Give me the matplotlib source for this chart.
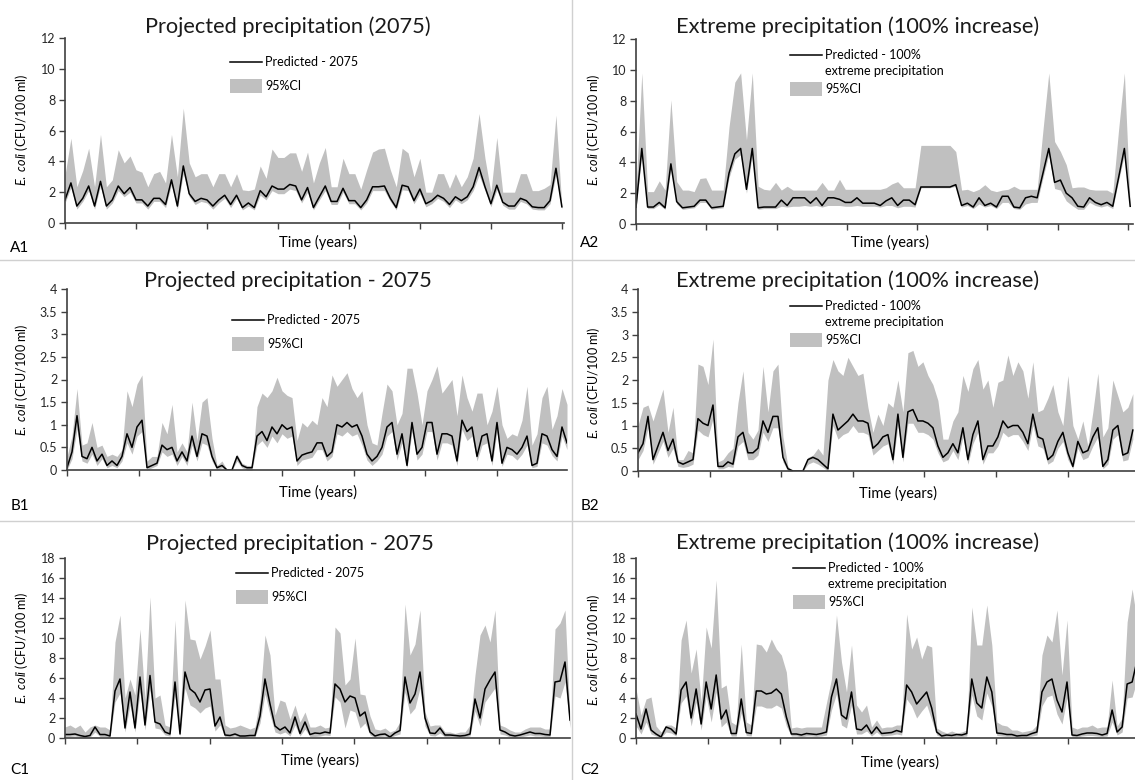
import numpy as np
import matplotlib.pyplot as plt
from matplotlib.lines import Line2D
from matplotlib.patches import Rectangle

plt.rcParams['font.family'] = ['Lato', 'DejaVu Sans']
plt.rcParams['mathtext.fontset'] = 'custom'
plt.rcParams['mathtext.it'] = 'Lato:italic'
plt.rcParams['mathtext.rm'] = 'Lato'

# ---- data (E. coli, CFU/100 ml) ----
# A: monthly series
pred_a1 = [1.5, 2.6, 1.1, 1.6, 2.4, 1.1, 2.7, 1.1, 1.5, 2.4, 1.9, 2.3, 1.5, 1.5, 1.1, 1.6, 1.6, 1.2, 2.8, 1.1,
           3.7, 1.9, 1.4, 1.6, 1.5, 1.1, 1.5, 1.8, 1.2, 1.8, 1.0, 1.3, 1.0, 2.1, 1.7, 2.4, 2.2, 2.2, 2.5, 2.4,
           1.5, 2.3, 1.0, 1.7, 2.4, 1.4, 1.4, 2.25, 1.45, 1.45, 1.0, 1.5, 2.35, 2.35, 2.4, 1.6, 1.0, 2.45, 2.35, 1.45,
           2.2, 1.25, 1.45, 1.8, 1.6, 1.2, 1.7, 1.45, 1.7, 2.35, 3.6, 2.35, 1.25, 2.45, 1.35, 1.1, 1.1, 1.6, 1.45, 1.05,
           1.0, 1.0, 1.45, 3.55, 1.05]
upper_a1 = [3.1, 5.5, 2.35, 3.4, 4.85, 2.35, 5.75, 2.35, 2.8, 4.75, 3.9, 4.35, 3.45, 3.3, 2.35, 3.2, 3.35, 2.6, 5.75, 3.0,
            7.45, 3.9, 3.0, 3.2, 3.2, 2.35, 3.2, 3.2, 2.35, 3.2, 2.15, 2.1, 2.2, 3.7, 2.9, 4.8, 4.25, 4.25, 4.55, 4.55,
            3.35, 4.6, 2.6, 3.9, 4.9, 2.35, 2.35, 4.2, 3.2, 3.2, 2.2, 3.45, 4.6, 4.8, 4.85, 3.45, 2.35, 4.85, 4.55, 3.0,
            4.2, 2.0, 2.0, 3.2, 3.2, 2.25, 3.2, 2.35, 3.0, 4.2, 7.1, 4.2, 2.0, 5.55, 2.0, 2.0, 2.0, 3.2, 3.2, 2.1,
            2.1, 2.25, 2.5, 7.0, 1.05]
lower_a1 = [1.3, 2.3, 0.9, 1.4, 2.1, 0.9, 2.4, 0.9, 1.3, 2.1, 1.7, 2.0, 1.3, 1.3, 0.9, 1.4, 1.4, 1.0, 2.5, 0.9,
            3.2, 1.7, 1.2, 1.4, 1.3, 0.9, 1.3, 1.6, 1.0, 1.6, 0.85, 1.1, 0.85, 1.8, 1.5, 2.1, 1.9, 1.9, 2.2, 2.1,
            1.3, 2.0, 0.85, 1.5, 2.1, 1.2, 1.2, 2.0, 1.25, 1.25, 0.85, 1.3, 2.1, 2.1, 2.1, 1.4, 0.85, 2.15, 2.1, 1.25,
            1.9, 1.05, 1.25, 1.6, 1.4, 1.0, 1.5, 1.25, 1.5, 2.1, 3.1, 2.1, 1.05, 2.15, 1.15, 0.9, 0.9, 1.4, 1.25, 0.9,
            0.85, 0.85, 1.25, 3.1, 0.9]

pred_a2 = [1.08, 4.9, 1.1, 1.1, 1.4, 1.05, 3.9, 1.45, 1.05, 1.1, 1.15, 1.55, 1.55, 1.05, 1.1, 1.15, 3.3, 4.55, 4.9, 2.25,
           4.9, 1.05, 1.1, 1.1, 1.1, 1.55, 1.2, 1.7, 1.7, 1.7, 1.35, 1.7, 1.2, 1.7, 1.7, 1.6, 1.4, 1.4, 1.7, 1.35,
           1.35, 1.35, 1.2, 1.5, 1.7, 1.2, 1.55, 1.55, 1.25, 2.4, 2.4, 2.4, 2.4, 2.4, 2.4, 2.55, 1.2, 1.35, 1.1, 1.7,
           1.2, 1.35, 1.1, 1.8, 1.8, 1.1, 1.05, 1.7, 1.8, 1.7, 3.3, 4.9, 2.7, 2.85, 2.0, 1.7, 1.15, 1.1, 1.7, 1.4,
           1.25, 1.4, 1.15, 3.0, 4.9, 1.15]
upper_a2 = [2.2, 9.8, 2.1, 2.1, 2.8, 2.2, 8.05, 2.75, 2.2, 2.2, 2.1, 2.95, 3.0, 2.2, 2.2, 2.2, 6.3, 9.2, 9.8, 5.45,
            9.8, 2.45, 2.25, 2.2, 2.7, 2.2, 2.45, 2.2, 2.2, 2.2, 2.2, 2.2, 2.7, 2.2, 2.2, 2.9, 2.25, 2.25, 2.25, 2.25,
            2.25, 2.25, 2.25, 2.35, 2.6, 2.75, 2.35, 2.35, 2.35, 5.1, 5.1, 5.1, 5.1, 5.1, 5.1, 4.7, 2.2, 2.25, 2.1, 2.25,
            2.55, 2.2, 2.1, 2.2, 2.25, 2.45, 2.25, 2.25, 2.25, 2.25, 6.1, 9.8, 5.35, 4.7, 3.85, 2.35, 2.4, 2.4, 2.25, 2.2,
            2.2, 2.2, 2.0, 6.1, 9.8, 1.15]
lower_a2 = [1.0, 4.5, 1.0, 1.0, 1.25, 0.95, 3.6, 1.3, 0.95, 1.0, 1.05, 1.4, 1.4, 0.95, 1.0, 1.05, 3.0, 4.2, 4.5, 2.0,
            4.5, 0.95, 1.0, 1.0, 1.0, 1.15, 1.1, 1.15, 1.15, 1.2, 1.15, 1.2, 1.1, 1.2, 1.2, 1.2, 1.15, 1.15, 1.2, 1.15,
            1.15, 1.15, 1.1, 1.2, 1.2, 1.05, 1.15, 1.15, 1.1, 2.35, 2.35, 2.35, 2.35, 2.35, 2.35, 2.45, 1.1, 1.2, 1.0, 1.3,
            1.1, 1.2, 1.0, 1.4, 1.4, 1.0, 0.95, 1.3, 1.4, 1.4, 3.0, 4.5, 2.3, 2.2, 1.5, 1.2, 0.95, 0.95, 1.4, 1.2,
            1.1, 1.2, 1.0, 2.8, 4.5, 1.0]

# B: sub-monthly series
pred_b1 = [0.05, 0.4, 1.2, 0.3, 0.25, 0.5, 0.2, 0.35, 0.1, 0.2, 0.1, 0.3, 0.8, 0.5, 0.95, 1.1, 0.05, 0.1, 0.15, 0.55,
           0.45, 0.5, 0.2, 0.4, 0.2, 0.75, 0.3, 0.8, 0.75, 0.3, 0.05, 0.1, 0.0, 0.0, 0.3, 0.1, 0.05, 0.05, 0.75, 0.85,
           0.65, 0.95, 0.8, 1.0, 0.9, 0.95, 0.2, 0.33, 0.37, 0.4, 0.6,
           0.6, 0.3, 0.4, 1.0, 0.95, 1.05, 0.95, 1.0, 0.75, 0.35, 0.2, 0.3, 0.5, 0.95, 1.05, 0.35, 0.8, 0.1, 1.05, 0.35,
           0.5, 1.05, 1.05, 0.35, 0.8, 0.8, 0.75, 0.2, 1.1, 0.85, 0.95, 0.3, 0.75, 0.8, 0.2, 1.05, 0.15, 0.5, 0.45, 0.35,
           0.5, 0.75, 0.1, 0.15, 0.8, 0.75, 0.45, 0.3, 0.95, 0.6]
upper_b1 = [0.3, 0.75, 1.8, 0.55, 0.6, 1.05, 0.5, 0.55, 0.3, 0.35, 0.3, 0.45, 1.75, 1.4, 1.9, 2.1, 0.2, 0.3, 0.3, 1.05,
            0.8, 1.45, 0.4, 0.6, 0.4, 1.5, 0.65, 1.5, 1.6, 0.7, 0.1, 0.2, 0.0, 0.0, 0.35, 0.15, 0.1, 0.1, 1.4, 1.7,
            1.6, 1.75, 2.05, 1.75, 1.65, 1.6, 0.65, 1.05, 0.95, 1.1, 1.0,
            1.6, 1.4, 2.1, 1.85, 2.0, 2.15, 1.8, 1.6, 1.75, 1.0, 0.6, 0.55, 1.25, 1.9, 1.75, 1.0, 1.25, 2.25, 2.25, 1.7,
            1.0, 1.75, 2.0, 2.3, 1.7, 1.85, 2.0, 1.2, 2.1, 1.6, 1.3, 1.7, 1.7, 1.0, 1.3, 1.85, 1.0, 0.7, 0.8, 0.75,
            1.1, 1.85, 0.55, 0.8, 1.6, 1.85, 0.9, 1.2, 1.8, 1.45]
lower_b1 = [0.0, 0.25, 0.9, 0.2, 0.15, 0.35, 0.1, 0.25, 0.05, 0.1, 0.05, 0.2, 0.6, 0.35, 0.75, 0.85, 0.0, 0.05, 0.1, 0.4,
            0.3, 0.35, 0.1, 0.3, 0.1, 0.55, 0.2, 0.6, 0.55, 0.2, 0.0, 0.05, 0.0, 0.0, 0.2, 0.05, 0.0, 0.0, 0.55, 0.65,
            0.5, 0.75, 0.6, 0.8, 0.7, 0.75, 0.1, 0.22, 0.25, 0.28, 0.45,
            0.45, 0.2, 0.3, 0.8, 0.75, 0.85, 0.75, 0.8, 0.55, 0.22, 0.1, 0.2, 0.35, 0.75, 0.85, 0.22, 0.6, 0.05, 0.85, 0.22,
            0.35, 0.85, 0.85, 0.22, 0.6, 0.6, 0.55, 0.1, 0.9, 0.65, 0.75, 0.2, 0.55, 0.6, 0.1, 0.85, 0.08, 0.35, 0.32, 0.22,
            0.35, 0.55, 0.05, 0.08, 0.6, 0.55, 0.32, 0.2, 0.75, 0.45]

pred_b2 = [0.4, 0.6, 1.2, 0.25, 0.55, 0.85, 0.45, 0.7, 0.2, 0.15, 0.2, 0.25, 1.15, 1.05, 1.0, 1.45, 0.1, 0.1, 0.2, 0.15,
           0.75, 0.85, 0.4, 0.4, 0.5, 1.1, 0.85, 1.2, 1.2, 0.3, 0.05, 0.0, 0.0, 0.0, 0.25, 0.3, 0.25, 0.15, 0.05, 1.25,
           0.9, 1.0, 1.1, 1.25, 1.1, 1.1, 1.05, 0.5, 0.6, 0.75, 0.8,
           0.25, 1.25, 0.3, 1.3, 1.35, 1.1, 1.1, 1.05, 0.95, 0.55, 0.3, 0.4, 0.6, 0.4, 0.95, 0.25, 0.8, 1.1, 0.25,
           0.55, 0.55, 0.75, 1.1, 0.95, 1.0, 1.0, 0.85, 0.6, 1.25, 0.75, 0.7, 0.25, 0.35, 0.65, 0.85, 0.4, 0.1, 0.65, 0.4,
           0.45, 0.75, 0.95, 0.1, 0.25, 0.9, 1.0, 0.35, 0.4, 0.9]
upper_b2 = [1.0, 1.4, 1.45, 1.1, 1.45, 1.8, 0.85, 1.4, 0.25, 0.25, 0.45, 0.4, 2.35, 2.3, 1.9, 2.9, 0.2, 0.25, 0.4, 0.5,
            1.5, 2.2, 0.85, 0.7, 0.9, 2.3, 1.3, 2.2, 2.35, 0.75, 0.1, 0.0, 0.0, 0.0, 0.3, 0.35, 0.5, 0.35, 2.0, 2.45,
            2.2, 2.1, 2.5, 2.3, 2.1, 2.15, 1.4, 0.85, 1.25, 1.0, 1.5,
            1.4, 2.0, 1.3, 2.6, 2.65, 2.3, 2.4, 2.1, 1.9, 1.55, 0.7, 0.7, 1.1, 1.3, 2.1, 1.75, 2.25, 2.45, 1.8,
            2.0, 1.4, 1.95, 2.0, 2.55, 2.1, 2.4, 2.2, 1.6, 2.4, 1.3, 1.35, 1.6, 1.9, 1.3, 1.0, 2.1, 1.0, 0.7, 1.1,
            0.55, 1.3, 2.15, 0.75, 0.95, 2.0, 1.65, 1.3, 1.4, 1.7]
lower_b2 = [0.25, 0.45, 0.95, 0.15, 0.4, 0.65, 0.3, 0.5, 0.1, 0.08, 0.1, 0.15, 0.9, 0.8, 0.75, 1.15, 0.05, 0.05, 0.1, 0.08,
            0.55, 0.65, 0.25, 0.25, 0.35, 0.85, 0.65, 0.95, 0.95, 0.2, 0.0, 0.0, 0.0, 0.0, 0.15, 0.2, 0.15, 0.08, 0.0, 1.0,
            0.7, 0.8, 0.85, 1.0, 0.85, 0.85, 0.8, 0.35, 0.45, 0.55, 0.6,
            0.15, 1.0, 0.2, 1.05, 1.05, 0.85, 0.85, 0.8, 0.7, 0.4, 0.2, 0.25, 0.45, 0.25, 0.75, 0.15, 0.6, 0.85, 0.15,
            0.4, 0.4, 0.55, 0.85, 0.75, 0.8, 0.8, 0.65, 0.45, 1.0, 0.55, 0.5, 0.15, 0.22, 0.5, 0.65, 0.25, 0.05, 0.5, 0.25,
            0.3, 0.55, 0.75, 0.05, 0.15, 0.7, 0.8, 0.22, 0.25, 0.7]

# C: sub-monthly series
pred_c1 = [0.35, 0.35, 0.4, 0.25, 0.15, 0.25, 1.1, 0.35, 0.35, 0.2, 4.7, 5.9, 1.0, 4.6, 1.0, 6.1, 1.3, 6.25, 1.6, 1.4,
           0.6, 0.4, 5.6, 0.4, 6.6, 4.9, 4.5, 3.6, 4.8, 4.9, 1.2, 2.1, 0.3, 0.25, 0.4, 0.2, 0.2, 0.25, 0.25, 2.2,
           5.9, 3.4, 1.2, 0.8, 1.1, 0.5, 2.1, 0.45, 1.6, 0.35, 0.5,
           0.45, 0.6, 0.5, 5.4, 4.9, 3.6, 4.2, 4.0, 2.2, 2.6, 0.6, 0.2, 0.35, 0.4, 0.1, 0.5, 0.75, 6.1, 3.5, 4.4,
           6.6, 2.0, 0.5, 0.45, 1.0, 0.3, 0.3, 0.25, 0.2, 0.25, 0.4, 3.9, 2.0, 4.9, 5.8, 6.6, 0.8, 0.6, 0.3, 0.2,
           0.3, 0.45, 0.6, 0.45, 0.45, 0.35, 0.3, 5.6, 5.7, 7.6, 1.8]
upper_c1 = [1.1, 1.3, 1.0, 1.3, 0.6, 1.1, 1.3, 1.1, 1.1, 0.8, 9.6, 12.3, 4.0, 5.9, 4.3, 10.9, 3.8, 14.1, 4.0, 4.3,
            1.3, 1.1, 11.8, 1.1, 13.8, 9.9, 9.8, 7.9, 9.2, 10.8, 5.9, 5.9, 1.3, 1.0, 1.1, 1.3, 1.1, 0.9, 1.1, 3.9,
            10.3, 8.3, 2.3, 3.8, 3.6, 1.9, 3.3, 1.6, 2.6, 1.1, 1.1,
            1.3, 1.0, 1.1, 11.1, 10.5, 5.3, 5.9, 10.0, 4.4, 4.3, 2.2, 0.9, 0.8, 1.0, 0.6, 0.8, 1.6, 13.4, 8.3, 9.4,
            12.8, 2.6, 1.2, 1.3, 1.3, 0.6, 0.6, 0.45, 0.6, 0.6, 1.3, 6.3, 10.3, 11.3, 9.6, 12.8, 1.3, 1.1, 0.8, 0.6,
            0.6, 0.9, 1.1, 1.1, 1.1, 0.9, 0.9, 10.9, 11.5, 12.8, 1.9]
lower_c1 = [0.15, 0.15, 0.2, 0.1, 0.05, 0.1, 0.6, 0.15, 0.15, 0.05, 3.6, 4.5, 0.6, 3.3, 0.6, 4.6, 0.8, 4.8, 1.0, 0.9,
            0.3, 0.2, 4.2, 0.2, 5.0, 3.3, 3.0, 2.5, 3.0, 3.2, 0.7, 1.3, 0.1, 0.1, 0.2, 0.05, 0.05, 0.1, 0.1, 1.5,
            4.4, 2.3, 0.6, 0.4, 0.6, 0.2, 1.3, 0.2, 0.9, 0.15, 0.15,
            0.2, 0.3, 0.25, 4.1, 3.6, 1.0, 2.8, 2.6, 1.0, 1.5, 0.3, 0.05, 0.15, 0.2, 0.03, 0.25, 0.4, 4.6, 2.4, 3.0,
            5.0, 1.2, 0.25, 0.2, 0.5, 0.1, 0.1, 0.1, 0.05, 0.1, 0.2, 2.7, 1.2, 3.6, 4.3, 5.0, 0.4, 0.3, 0.1, 0.05,
            0.1, 0.2, 0.3, 0.2, 0.2, 0.15, 0.1, 4.2, 4.0, 5.6, 1.0]

pred_c2 = [2.4, 0.9, 2.9, 0.8, 0.4, 0.1, 1.1, 0.9, 0.4, 4.8, 5.6, 2.0, 4.9, 1.4, 5.6, 2.9, 6.3, 1.9, 2.8, 0.45,
           0.45, 3.9, 0.55, 0.45, 4.7, 4.7, 4.4, 4.5, 4.9, 4.4, 2.1, 0.4, 0.4, 0.3, 0.45, 0.4, 0.35, 0.45, 0.6, 4.1,
           5.9, 2.3, 1.9, 4.6, 0.9, 0.8, 1.3, 0.45, 1.1, 0.45, 0.5,
           0.55, 0.75, 0.6, 5.3, 4.6, 3.4, 4.0, 4.6, 3.0, 0.6, 0.2, 0.3, 0.25, 0.35, 0.3, 0.45, 5.9, 3.5, 3.0, 6.1,
           4.6, 0.5, 0.45, 0.35, 0.35, 0.2, 0.25, 0.25, 0.45, 0.6, 4.6, 5.6, 5.9, 3.8, 2.6, 5.6, 0.3, 0.25, 0.4, 0.5,
           0.5, 0.45, 0.3, 0.45, 2.8, 0.6, 1.1, 5.4, 5.6, 7.8]
upper_c2 = [4.9, 2.3, 3.9, 4.1, 1.2, 0.6, 1.3, 1.3, 1.0, 9.8, 11.8, 6.5, 8.9, 3.6, 11.1, 9.0, 15.8, 5.0, 5.3, 1.6,
            1.3, 9.4, 1.6, 1.3, 9.4, 9.3, 8.6, 9.9, 8.9, 8.3, 6.6, 1.0, 1.1, 1.0, 1.1, 1.1, 1.1, 1.1, 3.5, 5.9,
            12.3, 7.6, 4.6, 9.3, 3.3, 2.6, 3.3, 1.1, 1.8, 1.0, 1.1,
            1.1, 1.3, 1.3, 12.4, 8.9, 10.1, 7.9, 9.3, 9.1, 1.0, 0.7, 0.5, 0.7, 0.5, 0.6, 0.8, 13.1, 9.3, 9.3, 13.3,
            9.3, 1.6, 1.3, 1.2, 0.8, 0.8, 0.6, 0.7, 0.8, 1.3, 8.3, 10.3, 9.6, 12.8, 6.3, 11.8, 1.1, 0.9, 1.1, 1.1,
            1.3, 1.0, 1.1, 1.1, 5.8, 1.2, 2.0, 11.6, 14.9, 11.6]
lower_c2 = [1.2, 0.4, 1.6, 0.4, 0.2, 0.05, 0.6, 0.5, 0.2, 3.5, 4.2, 1.2, 3.6, 0.8, 4.2, 1.6, 4.6, 1.1, 1.6, 0.2,
            0.2, 2.5, 0.25, 0.2, 3.2, 3.2, 3.0, 3.0, 3.3, 3.0, 1.2, 0.2, 0.2, 0.1, 0.2, 0.2, 0.15, 0.2, 0.3, 2.8,
            4.4, 1.3, 1.0, 3.3, 0.4, 0.4, 0.7, 0.2, 0.6, 0.2, 0.25,
            0.3, 0.4, 0.3, 3.9, 3.2, 2.0, 2.7, 3.3, 1.8, 0.3, 0.1, 0.15, 0.1, 0.15, 0.15, 0.2, 4.3, 2.2, 1.8, 4.5,
            3.2, 0.25, 0.2, 0.15, 0.15, 0.1, 0.1, 0.1, 0.2, 0.3, 3.2, 4.1, 4.3, 2.4, 1.4, 4.0, 0.1, 0.1, 0.2, 0.25,
            0.25, 0.2, 0.15, 0.2, 1.6, 0.3, 0.6, 4.0, 4.1, 5.8]

ticks_a = [0, 2, 4, 6, 8, 10, 12]
ticks_b = [0, 0.5, 1, 1.5, 2, 2.5, 3, 3.5, 4]
labels_b = ['0', '0.5', '1', '1.5', '2', '2.5', '3', '3.5', '4']
ticks_c = [0, 2, 4, 6, 8, 10, 12, 14, 16, 18]

title_proj_a = 'Projected precipitation (2075)'
title_proj = 'Projected precipitation - 2075'
title_ext = 'Extreme precipitation (100% increase)'
ylab = r'$\it{E.\ coli}$ (CFU/100 ml)'

W, H = 1135, 780
fig = plt.figure(figsize=(W / 100, H / 100), dpi=100)


def fx(px):
    return px / W


def fy(py):
    return 1 - py / H


def panel(box, t_end, xmax, nyears, pred, lo, hi, yticks, ylabels=None):
    left, right, top, bottom = box
    ax = fig.add_axes([fx(left), fy(bottom), (right - left) / W, (bottom - top) / H])
    t = np.linspace(0, t_end, len(pred))
    ax.fill_between(t, lo, hi, color='#c0c0c0', lw=0)
    ax.plot(t, pred, color='black', lw=1.1)
    ax.set_xlim(0, xmax)
    ax.set_ylim(yticks[0], yticks[-1])
    ax.set_yticks(yticks)
    if ylabels is not None:
        ax.set_yticklabels(ylabels)
    ax.set_xticks(range(nyears + 1))
    ax.set_xticklabels([])
    for s in ['top', 'right']:
        ax.spines[s].set_visible(False)
    for s in ['left', 'bottom']:
        ax.spines[s].set_color('#404040')
        ax.spines[s].set_linewidth(1.2)
    ax.tick_params(direction='out', length=4, width=1, color='#404040',
                   labelsize=9, labelcolor='#262626', pad=3)
    return ax


def legend(x, y, text, two_lines=False):
    fig.add_artist(Line2D([fx(x), fx(x + 32)], [fy(y), fy(y)], color='black', lw=1.1))
    fig.text(fx(x + 35), fy(y), text[0], fontsize=9, va='center', ha='left')
    yb = y + 24
    if two_lines:
        fig.text(fx(x + 35), fy(y + 16), text[1], fontsize=9, va='center', ha='left')
        yb = y + 34
    fig.add_artist(Rectangle((fx(x), fy(yb + 7)), 32 / W, 14 / H, color='#c0c0c0', lw=0))
    fig.text(fx(x + 35), fy(yb), '95%CI', fontsize=9, va='center', ha='left')


# A1 / A2
panel((65, 564, 38, 223), 7.0, 7.03, 7, pred_a1, lower_a1, upper_a1, ticks_a)
panel((636, 1133, 39, 224), 7.03, 7.07, 7, pred_a2, lower_a2, upper_a2, ticks_a)
# B1 / B2
panel((67, 567, 289, 470), 6.98, 6.98, 6, pred_b1, lower_b1, upper_b1, ticks_b, labels_b)
panel((638, 1135, 289, 471), 6.91, 6.94, 6, pred_b2, lower_b2, upper_b2, ticks_b, labels_b)
# C1 / C2
panel((65, 570, 558, 738), 6.98, 6.98, 6, pred_c1, lower_c1, upper_c1, ticks_c)
panel((636, 1135, 558, 738), 6.96, 6.93, 6, pred_c2, lower_c2, upper_c2, ticks_c)

# titles
for (x, y, s) in [(288, 27, title_proj_a), (858, 27, title_ext),
                  (288, 281, title_proj), (858, 281, title_ext),
                  (290, 544, title_proj), (858, 543, title_ext)]:
    fig.text(fx(x), fy(y), s, fontsize=15.7, ha='center', va='center', color='#1a1a1a')

# legends
legend(230, 62, ['Predicted - 2075'])
legend(790, 55, ['Predicted - 100%', 'extreme precipitation'], True)
legend(232, 320, ['Predicted - 2075'])
legend(790, 306, ['Predicted - 100%', 'extreme precipitation'], True)
legend(236, 573, ['Predicted - 2075'])
legend(793, 568, ['Predicted - 100%', 'extreme precipitation'], True)

# axis labels and panel tags
for (x, y) in [(22, 130), (593, 130), (22, 380), (593, 383), (22, 648), (593, 650)]:
    fig.text(fx(x), fy(y), ylab, fontsize=9, rotation=90, ha='center', va='center')
for (x, y) in [(318, 242), (890, 242), (318, 492), (898, 493), (320, 760), (900, 762)]:
    fig.text(fx(x), fy(y), 'Time (years)', fontsize=10.5, ha='center', va='center')
for (x, y, s) in [(20, 248, 'A1'), (590, 243, 'A2'), (20, 506, 'B1'), (590, 506, 'B2'),
                  (20, 770, 'C1'), (590, 770, 'C2')]:
    fig.text(fx(x), fy(y), s, fontsize=11, ha='center', va='center')

# panel dividers
for y in [260, 521]:
    fig.add_artist(Line2D([0, 1], [fy(y), fy(y)], color='#d0d0d0', lw=1))
fig.add_artist(Line2D([fx(572), fx(572)], [0, 1], color='#d0d0d0', lw=1))

fig.savefig('out.png', dpi=100)
